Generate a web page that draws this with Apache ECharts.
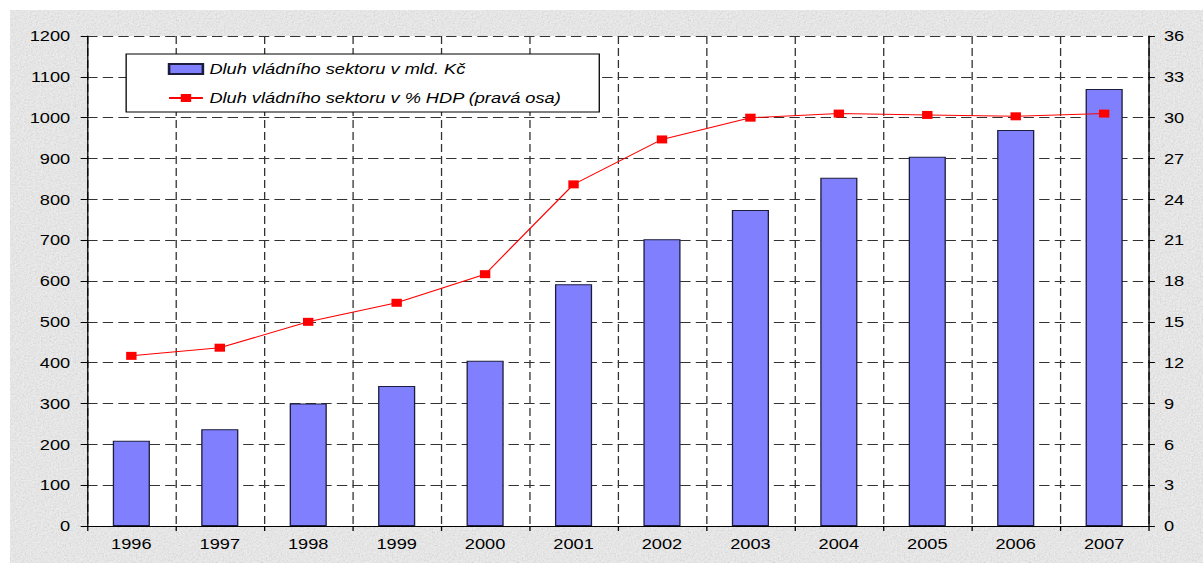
<!DOCTYPE html>
<html>
<head>
<meta charset="utf-8">
<script src="https://cdn.jsdelivr.net/npm/echarts@6/dist/echarts.min.js"></script>
<style>
  html, body { margin: 0; padding: 0; background: #ffffff; }
  body { width: 1203px; height: 563px; position: relative; overflow: hidden; }
  #panel {
    position: absolute; left: 10px; top: 10px; width: 1193px; height: 553px;
    background-color: #e6e6e6;
    background-image: url("data:image/svg+xml;utf8,<svg xmlns='http://www.w3.org/2000/svg' width='256' height='256'><filter id='n' x='0' y='0' width='100%' height='100%'><feTurbulence type='fractalNoise' baseFrequency='0.6' numOctaves='3' stitchTiles='stitch'/><feColorMatrix type='matrix' values='0.33 0.33 0.33 0 0 0.33 0.33 0.33 0 0 0.33 0.33 0.33 0 0 0 0 0 0 1'/><feComponentTransfer><feFuncR type='linear' slope='1.6' intercept='-0.05'/><feFuncG type='linear' slope='1.6' intercept='-0.05'/><feFuncB type='linear' slope='1.6' intercept='-0.05'/></feComponentTransfer></filter><rect width='256' height='256' filter='url(%23n)' opacity='0.3'/></svg>");
  }
  /* the chart is laid out in a narrower box and widened horizontally */
  #chart {
    position: absolute; left: 0; top: 0; width: 925px; height: 563px;
    transform: scaleX(1.30054); transform-origin: 0 0;
  }
</style>
</head>
<body>
<div id="panel"></div>
<div id="chart"></div>
<script>
// Government sector debt of the Czech Republic
const years = ['1996', '1997', '1998', '1999', '2000', '2001', '2002', '2003', '2004', '2005', '2006', '2007'];
const debtBnCzk = [209, 237, 300, 343, 405, 592, 702, 774, 853, 904, 970, 1070];
const debtPctGdp = [12.5, 13.1, 15.0, 16.4, 18.5, 25.1, 28.4, 30.0, 30.3, 30.2, 30.1, 30.3];
const leftTicks = { min: 0, max: 1200, interval: 100 };
const rightTicks = { min: 0, max: 36, interval: 3 };
const barName = 'Dluh vládního sektoru v mld. Kč';
const lineName = 'Dluh vládního sektoru v % HDP (pravá osa)';

const font = "'Liberation Sans', Arial, sans-serif";
const plain = v => String(v);
const chart = echarts.init(document.getElementById('chart'), null, { renderer: 'svg' });

chart.setOption({
  backgroundColor: 'transparent',
  animation: false,
  grid: {
    left: 67, right: 42, top: 36, bottom: 37,
    show: true, backgroundColor: '#ffffff', borderWidth: 0
  },
  legend: {
    orient: 'vertical',
    left: 97, top: 54,
    padding: [8, 29, 7, 32],
    itemGap: 15,
    itemWidth: 26, itemHeight: 10,
    backgroundColor: '#ffffff',
    borderColor: '#000000', borderWidth: 1,
    textStyle: { fontFamily: font, fontSize: 14, fontStyle: 'italic', color: '#000', lineHeight: 14 },
    data: [{ name: barName, icon: 'rect' }, { name: lineName }]
  },
  xAxis: {
    type: 'category',
    data: years,
    boundaryGap: true,
    axisLine: { show: true, lineStyle: { color: '#000', width: 1 } },
    axisTick: { show: true, length: 5, lineStyle: { color: '#000' } },
    axisLabel: { color: '#000', fontFamily: font, fontSize: 14, margin: 11 },
    splitLine: { show: true, lineStyle: { color: '#333', width: 1, type: [8, 4] } }
  },
  yAxis: [
    {
      type: 'value',
      min: leftTicks.min, max: leftTicks.max, interval: leftTicks.interval,
      axisLine: { show: true, lineStyle: { color: '#000', width: 1 } },
      axisTick: { show: true, length: 5, lineStyle: { color: '#000' } },
      axisLabel: { color: '#000', fontFamily: font, fontSize: 14, margin: 13, formatter: plain },
      splitLine: { show: true, lineStyle: { color: '#333', width: 1, type: [8, 4] } }
    },
    {
      type: 'value',
      position: 'right',
      min: rightTicks.min, max: rightTicks.max, interval: rightTicks.interval,
      axisLine: { show: true, lineStyle: { color: '#000', width: 1 } },
      axisTick: { show: true, length: 5, lineStyle: { color: '#000' } },
      axisLabel: { color: '#000', fontFamily: font, fontSize: 14, margin: 12, formatter: plain },
      splitLine: { show: false }
    }
  ],
  series: [
    {
      name: barName,
      type: 'bar',
      data: debtBnCzk,
      barWidth: '42%',
      itemStyle: { color: '#8080ff', borderColor: '#1c1c3c', borderWidth: 1 },
      z: 2
    },
    {
      name: lineName,
      type: 'line',
      yAxisIndex: 1,
      data: debtPctGdp,
      symbol: 'rect',
      symbolSize: 8,
      showAllSymbol: true,
      lineStyle: { color: '#ff0000', width: 1 },
      itemStyle: { color: '#ff0000' },
      z: 3
    }
  ]
});
</script>
</body>
</html>
